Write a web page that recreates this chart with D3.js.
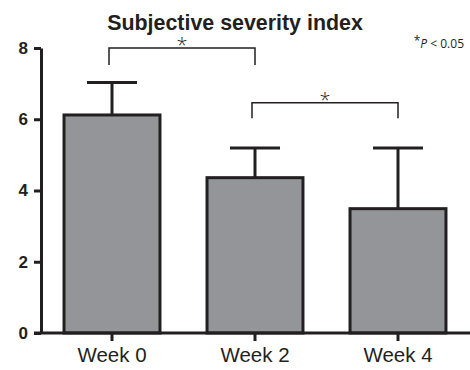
<!DOCTYPE html>
<html><head><meta charset="utf-8">
<script src="https://cdn.jsdelivr.net/npm/d3@7"></script>
<style>
html,body{margin:0;padding:0;background:#fff;}
svg{display:block;}
</style></head>
<body>
<script>
const categories = ["Week 0", "Week 2", "Week 4"];
const means = [6.12, 4.36, 3.49];
const upperErr = [7.03, 5.19, 5.19];
const yTicks = [0, 2, 4, 6, 8];
const brackets = [
  {from: "Week 0", to: "Week 2", top: 8.0, leg: 7.52, label: "*"},
  {from: "Week 2", to: "Week 4", top: 6.46, leg: 6.03, label: "*"}
];
const title = "Subjective severity index";

const W = 470, H = 370;
const ink = "#231f20";
const svg = d3.select("body").append("svg").attr("width", W).attr("height", H);

const y = d3.scaleLinear().domain([0, 8]).range([333, 48]);
const x = d3.scaleBand().domain(categories).range([40.5, 469.5]).paddingInner(0.329).paddingOuter(0.1645);

// title
svg.append("text").attr("x", 235).attr("y", 30).attr("text-anchor", "middle")
  .attr("font-family", "Liberation Sans, Arial, sans-serif").attr("font-weight", "bold")
  .attr("font-size", 21.4).attr("fill", ink).text(title);

// p note
const pn = svg.append("text").attr("x", 464).attr("y", 48).attr("text-anchor", "end")
  .attr("font-family", "Open Sans, sans-serif").attr("font-size", 12).attr("fill", ink);
pn.append("tspan").attr("dy", -3).text("*");
pn.append("tspan").attr("dy", 3).attr("font-style", "italic").text("P");
pn.append("tspan").text(" < 0.05");

// bars
svg.append("g").selectAll("rect").data(categories).join("rect")
  .attr("x", d => x(d)).attr("y", (d, i) => y(means[i]))
  .attr("width", x.bandwidth()).attr("height", (d, i) => y(0) - y(means[i]))
  .attr("fill", "#939598").attr("stroke", ink).attr("stroke-width", 3);

// error bars
const eb = svg.append("g").attr("stroke", ink).attr("stroke-width", 3);
categories.forEach((c, i) => {
  const cx = x(c) + x.bandwidth() / 2;
  eb.append("line").attr("x1", cx).attr("x2", cx).attr("y1", y(means[i])).attr("y2", y(upperErr[i]));
  eb.append("line").attr("x1", cx - 25).attr("x2", cx + 25).attr("y1", y(upperErr[i])).attr("y2", y(upperErr[i]));
});

// y axis
const ya = svg.append("g").attr("transform", "translate(41,0)")
  .call(d3.axisLeft(y).tickValues(yTicks).tickSize(7).tickPadding(6).tickSizeOuter(0).tickFormat(d3.format("d")));
ya.select(".domain").attr("stroke", ink).attr("stroke-width", 3);
ya.selectAll(".tick line").attr("stroke", ink).attr("stroke-width", 3);
ya.selectAll(".tick text").attr("font-family", "Liberation Sans, Arial, sans-serif")
  .attr("font-weight", "bold").attr("font-size", 17).attr("fill", ink);

// x axis
const xa = svg.append("g").attr("transform", "translate(0,333)")
  .call(d3.axisBottom(x).tickSize(8).tickPadding(6).tickSizeOuter(0));
xa.select(".domain").attr("d", "M34,0H470").attr("stroke", ink).attr("stroke-width", 3);
xa.selectAll(".tick line").attr("stroke", ink).attr("stroke-width", 3);
xa.selectAll(".tick text").attr("font-family", "Liberation Sans, Arial, sans-serif")
  .attr("font-size", 20.5).attr("fill", ink).attr("dy", "0.71em");

// significance brackets
const bg = svg.append("g");
brackets.forEach(b => {
  const x1 = x(b.from) + x.bandwidth() / 2 - 3, x2 = x(b.to) + x.bandwidth() / 2;
  bg.append("path").attr("d", `M${x1},${y(b.leg)}V${y(b.top)}H${x2}V${y(b.leg)}`)
    .attr("fill", "none").attr("stroke", ink).attr("stroke-width", 1.5);
  bg.append("text").attr("x", (x1 + x2) / 2).attr("y", y(b.top) + 4).attr("text-anchor", "middle")
    .attr("font-family", "Open Sans, sans-serif").attr("font-weight", 300).attr("font-size", 20)
    .attr("fill", ink).text(b.label);
});
</script>
</body></html>
